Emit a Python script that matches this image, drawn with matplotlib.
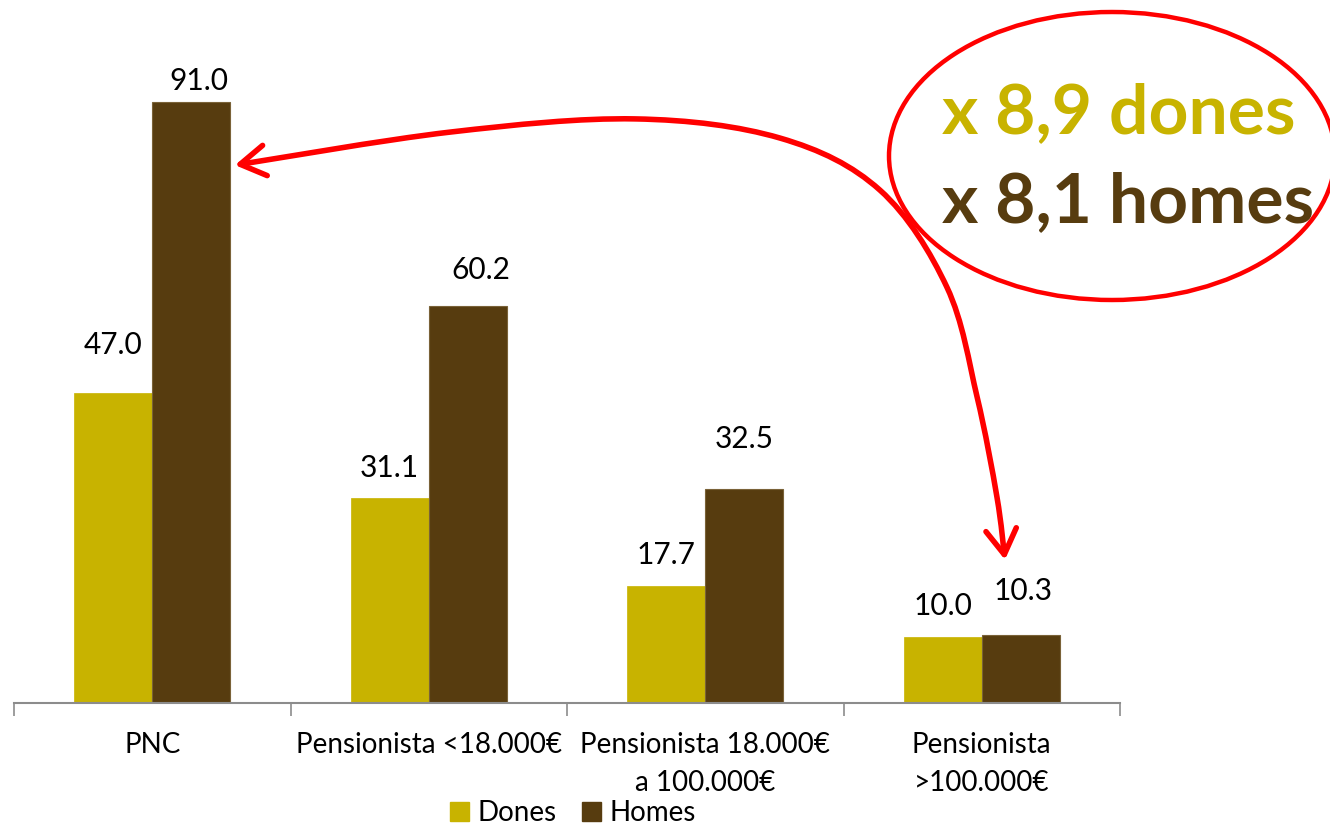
import numpy as np
import matplotlib
matplotlib.use("Agg")
import matplotlib.pyplot as plt
from matplotlib.patches import Ellipse, FancyArrowPatch, Patch
from matplotlib.path import Path

plt.rcParams['font.family'] = ['Lato', 'DejaVu Sans']

categories = ["PNC", "Pensionista <18.000€", "Pensionista 18.000€\na 100.000€",
              "Pensionista\n>100.000€"]
dones = [47.0, 31.1, 17.7, 10.0]
homes = [91.0, 60.2, 32.5, 10.3]
series_names = ["Dones", "Homes"]
ratio_texts = ["x 8,9 dones", "x 8,1 homes"]

# label offsets from bar top (pixels), placed by hand in the original
off_dones = [48, 30, 31, 31]
off_homes = [21, 36, 49, 44]
dx_homes = [8, 13, 0, 2]

# waypoints of the red curved arrow, data coords (x category units, y value)
arrow_pts = [(0.299, 81.5), (1.077, 86.5), (1.746, 88.5), (2.270, 85.6),
             (2.632, 77.7), (2.874, 63.0), (2.983, 46.4), (3.055, 31.2),
             (3.084, 21.7)]

gold = "#C8B300"
brown = "#573C0F"
red = "#FF0000"

fig = plt.figure(figsize=(13.3, 8.32), dpi=100)
ax = fig.add_axes([14 / 1330, 129 / 832, 1106 / 1330, 660 / 832])

x = np.arange(len(categories))
w = 0.283
ax.bar(x - w / 2, dones, w, color=gold, edgecolor=gold, linewidth=0.5)
ax.bar(x + w / 2, homes, w, color=brown, edgecolor="#7a6238", linewidth=0.8)

ax.set_xlim(-0.5, len(categories) - 0.5)
ax.set_ylim(0, 100)

for sp in ["top", "right", "left"]:
    ax.spines[sp].set_visible(False)
ax.spines["bottom"].set_color("#8c8c8c")
ax.spines["bottom"].set_linewidth(1.5)
ax.set_yticks([])

ax.set_xticks(np.arange(len(categories) + 1) - 0.5)
ax.set_xticklabels([])
ax.tick_params(axis="x", which="major", length=9, width=1.2, color="#8c8c8c")
ax.set_xticks(x, minor=True)
ax.set_xticklabels(categories, minor=True, fontsize=20, linespacing=1.55)
ax.tick_params(axis="x", which="minor", length=0, pad=21)

for i in range(len(categories)):
    ax.annotate(f"{dones[i]:.1f}", (x[i] - w / 2, dones[i]),
                xytext=(0, off_dones[i] * 0.72),
                textcoords="offset points", ha="center", va="center", fontsize=21.5)
    ax.annotate(f"{homes[i]:.1f}", (x[i] + w / 2, homes[i]),
                xytext=(dx_homes[i] * 0.72, off_homes[i] * 0.72),
                textcoords="offset points", ha="center", va="center", fontsize=21.5)

# smooth path through the waypoints (catmull-rom -> bezier)
pts = np.array(arrow_pts)
ext = np.vstack([pts[0], pts, pts[-1]])
verts = [tuple(pts[0])]
codes = [Path.MOVETO]
for k in range(1, len(ext) - 2):
    p0, p1, p2, p3 = ext[k - 1], ext[k], ext[k + 1], ext[k + 2]
    verts += [tuple(p1 + (p2 - p0) / 6), tuple(p2 - (p3 - p1) / 6), tuple(p2)]
    codes += [Path.CURVE4] * 3
arrow = FancyArrowPatch(path=Path(verts, codes),
                        arrowstyle="<->,head_length=0.9,head_width=0.55",
                        mutation_scale=20, color=red, linewidth=4,
                        transform=ax.transData, clip_on=False, capstyle="round",
                        joinstyle="round")
ax.add_patch(arrow)

ell = Ellipse((1112 / 1330, 1 - 156 / 832), 446 / 1330, 288 / 832,
              transform=fig.transFigure, fill=False, edgecolor=red, linewidth=3.2)
fig.patches.append(ell)

fig.text(942 / 1330, 1 - 133 / 832, ratio_texts[0], color=gold, fontsize=50,
         fontweight="bold", ha="left", va="baseline")
fig.text(942 / 1330, 1 - 222 / 832, ratio_texts[1], color=brown, fontsize=50,
         fontweight="bold", ha="left", va="baseline")

handles = [Patch(color=gold, label=series_names[0]),
           Patch(color=brown, label=series_names[1])]
fig.legend(handles=handles, ncol=2, loc="lower center", bbox_to_anchor=(573 / 1330, -0.01),
           frameon=False, fontsize=20, handlelength=0.7, handleheight=0.7,
           handletextpad=0.3, columnspacing=0.9, borderpad=0)

fig.savefig("out.png", dpi=100)
